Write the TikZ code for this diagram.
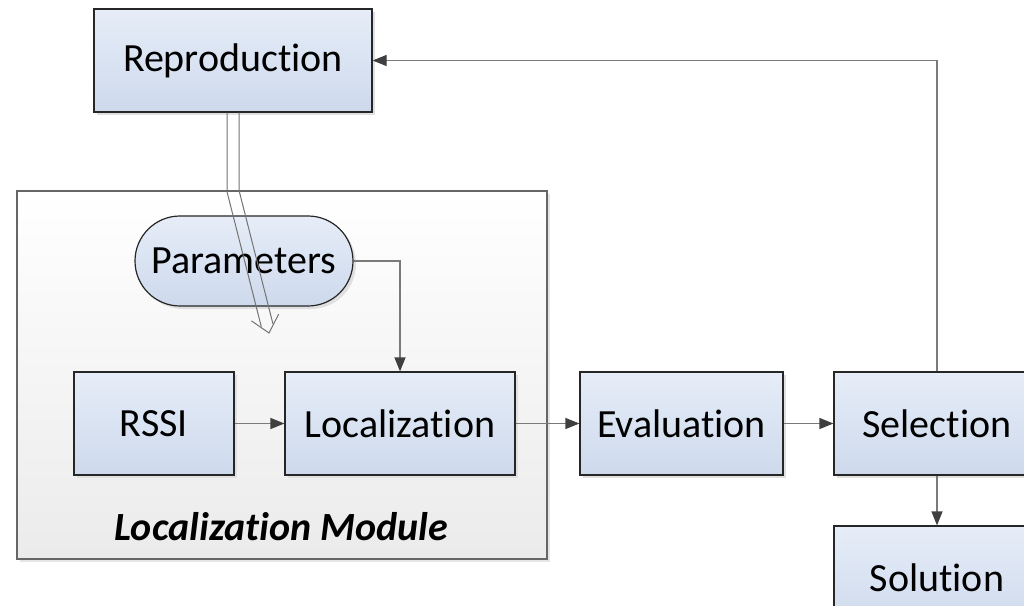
\documentclass[tikz,border=0pt]{standalone}
\usepackage{fontspec}
\setmainfont[Ligatures=NoCommon]{Carlito}
\usetikzlibrary{arrows.meta,shadows,calc}
\definecolor{boxtop}{HTML}{E6EDF8}
\definecolor{boxbot}{HTML}{CDD9EC}
\definecolor{modtop}{HTML}{FFFFFF}
\definecolor{modbot}{HTML}{EBEBEB}
\definecolor{wirecol}{HTML}{7A7A7A}
\definecolor{tipcol}{HTML}{3F3F3F}
\tikzset{
  blockbox/.style={draw=black!85, line width=1.2pt, top color=boxtop, bottom color=boxbot,
    drop shadow={shadow xshift=3pt, shadow yshift=-3pt, fill=black!12, opacity=1},
    inner sep=0pt, font=\fontsize{40}{48}\selectfont},
  modbox/.style={draw=black!60, line width=1.2pt, top color=modtop, bottom color=modbot,
    drop shadow={shadow xshift=3pt, shadow yshift=-3pt, fill=black!10, opacity=1}},
  wire/.style={draw=wirecol, line width=1.2pt, -{Triangle[length=14pt,width=11pt,color=tipcol]}},
  feed/.style={draw=black!55, line width=1pt, line join=miter},
}
\begin{document}
\begin{tikzpicture}[x=1pt,y=-1pt]
  \useasboundingbox (0,0) rectangle (1024,605);
  \clip (0,0) rectangle (1024,605);
%%
  % Node: Localization Module (frame)
  \node[modbox, minimum width=530, minimum height=368] (module) at (282,375) {};
  \node[font=\fontsize{40}{48}\selectfont\bfseries\itshape] (modlabel) at (281,527) {Localization Module};
  % Node: Reproduction
  \node[blockbox, minimum width=278, minimum height=103] (repro) at (233,60.5) {Reproduction};
  % Node: Parameters
  \node[blockbox, rounded corners=45, minimum width=218, minimum height=90] (param) at (244,261) {Parameters};
  % Node: RSSI
  \node[blockbox, minimum width=160, minimum height=103] (rssi) at (154,423.5) {RSSI};
  % Node: Localization
  \node[blockbox, minimum width=230, minimum height=103] (loc) at (400,423.5) {Localization};
  % Node: Evaluation
  \node[blockbox, minimum width=203, minimum height=103] (eval) at (681.5,423.5) {Evaluation};
  % Node: Selection
  \node[blockbox, minimum width=206, minimum height=103] (sel) at (937,423.5) {Selection};
  % Node: Solution
  \node[blockbox, minimum width=206, minimum height=103] (sol) at (937,577.5) {Solution};
%
  % Edge: Reproduction -> Localization Module (hollow double arrow)
  \coordinate (feedtipL) at (251.5,320.9);
  \coordinate (feedtip) at (269,333);
  \coordinate (feedtipR) at (278.7,314.1);
  \draw[feed] ($(repro.south)+(-6,0)$) -- (227,191.7) -- (261.3,326.7);
  \draw[feed] ($(repro.south)+(6,0)$) -- (239,190.3) -- (272.9,323.7);
  \draw[feed] (feedtipL) -- (feedtip) -- (feedtipR);
  % Edge: Parameters -> Localization
  \draw[wire] (param.east) -| (loc.north);
  % Edge: RSSI -> Localization
  \draw[wire] (rssi) -- (loc);
  % Edge: Localization -> Evaluation
  \draw[wire] (loc) -- (eval);
  % Edge: Evaluation -> Selection
  \draw[wire] (eval) -- (sel);
  % Edge: Selection -> Solution
  \draw[wire] (sel) -- (sol);
  % Edge: Selection -> Reproduction
  \draw[wire] (sel.north) |- (repro.east);
%
\end{tikzpicture}
\end{document}
